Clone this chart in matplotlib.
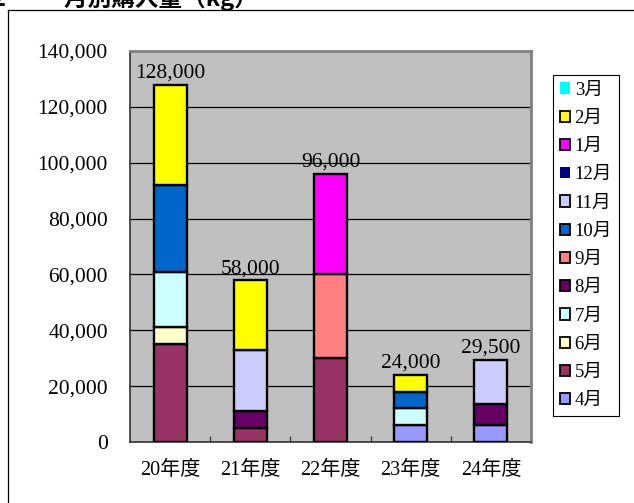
import numpy as np
import matplotlib.pyplot as plt
from matplotlib.patches import Patch
from matplotlib.lines import Line2D

plt.rcParams['font.family'] = ['Liberation Serif', 'Noto Sans CJK JP']

years = ['20年度', '21年度', '22年度', '23年度', '24年度']
months = ['4月', '5月', '6月', '7月', '8月', '9月', '10月', '11月', '12月', '1月', '2月', '3月']
colors = ['#9999FF', '#993366', '#FFFFCC', '#CCFFFF', '#660066', '#FF8080',
          '#0066CC', '#CCCCFF', '#000080', '#FF00FF', '#FFFF00', '#00FFFF']

# purchases per month (kg), one list per month over the five years
m4 = [0, 0, 0, 6000, 6000]
m5 = [35000, 5000, 30000, 0, 0]
m6 = [6000, 0, 0, 0, 0]
m7 = [20000, 0, 0, 6000, 0]
m8 = [0, 6000, 0, 0, 7500]
m9 = [0, 0, 30000, 0, 0]
m10 = [31000, 0, 0, 6000, 0]
m11 = [0, 22000, 0, 0, 16000]
m12 = [0, 0, 0, 0, 0]
m1 = [0, 0, 36000, 0, 0]
m2 = [36000, 25000, 0, 6000, 0]
m3 = [0, 0, 0, 0, 0]
series = [m4, m5, m6, m7, m8, m9, m10, m11, m12, m1, m2, m3]

fig = plt.figure(figsize=(6.34, 5.03), dpi=100)
ax = fig.add_axes([130 / 634, 1 - 442 / 503, 401 / 634, 391 / 503])
ax.set_facecolor('#C0C0C0')

x = np.arange(len(years))
bottom = np.zeros(len(years))
for vals, c in zip(series, colors):
    vals = np.array(vals, dtype=float)
    mask = vals > 0
    ax.bar(x[mask], vals[mask], bottom=bottom[mask], width=0.41, color=c,
           edgecolor='black', linewidth=1.7, zorder=3)
    bottom += vals

for xi, tot in zip(x, bottom):
    ax.text(xi, tot + 700, f'{int(tot):,}', ha='center', va='bottom', fontsize=15.5)

ax.set_xlim(-0.5, 4.5)
ax.set_ylim(0, 140000)
ax.set_yticks(np.arange(0, 140001, 20000))
ax.set_yticklabels([f'{v:,}' for v in range(0, 140001, 20000)], fontsize=15.5)
ax.set_xticks(x)
ax.set_xticklabels(years, fontsize=14.5)
ax.tick_params(axis='x', length=0, pad=14)
ax.tick_params(axis='y', length=0, pad=16)
ax.set_xticks(np.arange(0.5, 4.5, 1), minor=True)
ax.tick_params(axis='x', which='minor', direction='in', length=4, width=1, color='#404040')
ax.grid(axis='y', color='black', linewidth=0.9, zorder=1)
ax.set_axisbelow(True)
for s in ['left', 'bottom']:
    ax.spines[s].set_color('#333333')
    ax.spines[s].set_linewidth(1.2)
for s in ['top', 'right']:
    ax.spines[s].set_color('#808080')
    ax.spines[s].set_linewidth(2)

handles = []
for m, c in zip(months, colors):
    ec = 'none' if m in ('3月', '12月') else 'black'
    handles.append(Patch(facecolor=c, edgecolor=ec, linewidth=1.3, label=m))
leg = fig.legend(handles[::-1], months[::-1], loc='upper left',
                 bbox_to_anchor=(553 / 634, 1 - 75 / 503), fontsize=13.5,
                 handlelength=0.55, handleheight=0.55, handletextpad=0.25,
                 labelspacing=0.6, borderpad=0.35, borderaxespad=0, fancybox=False,
                 edgecolor='black', framealpha=1)
leg.get_frame().set_linewidth(0.8)

# outer chart frame and clipped title
fig.add_artist(Line2D([8 / 634, 8 / 634], [0, 1 - 10 / 503], color='black', linewidth=0.9))
fig.add_artist(Line2D([8 / 634, 1], [1 - 10 / 503, 1 - 10 / 503], color='black', linewidth=0.9))
fig.text(-8 / 634, 1 + 2 / 503, '2　　  月別購入量（kg）', ha='left', va='center',
         fontsize=17, fontweight='bold', family=['Noto Sans CJK JP'])

fig.savefig('out.png', dpi=100)
